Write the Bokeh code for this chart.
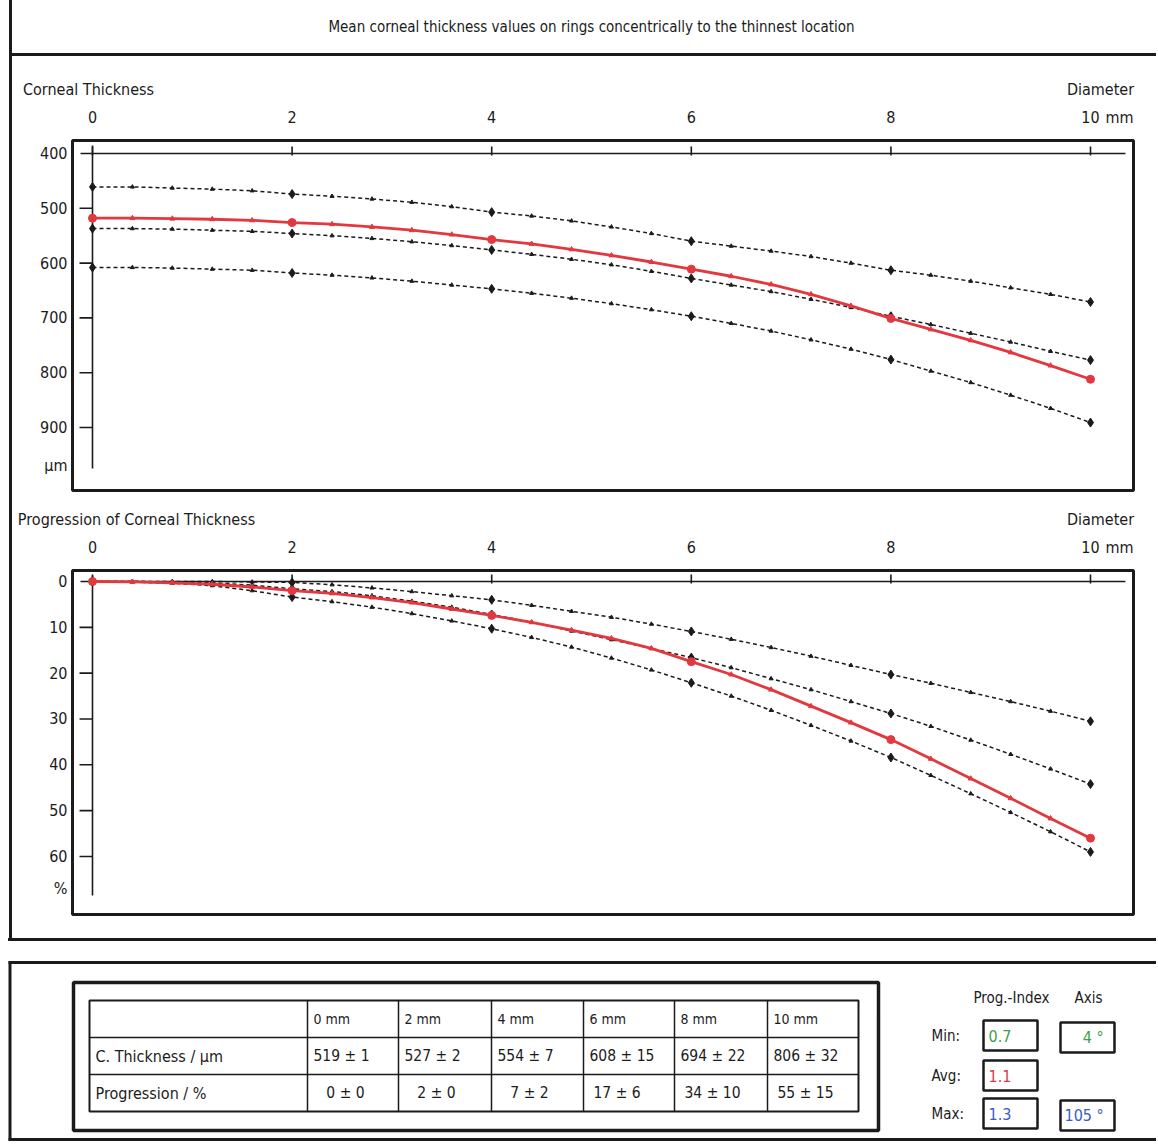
from bokeh.plotting import figure
from bokeh.models import Range1d, LinearAxis, FixedTicker, Div, Spacer
from bokeh.layouts import column, row
from bokeh.embed import file_html
from bokeh.resources import INLINE
from bokeh.core.properties import value

# ---------------- data ----------------
diam = [0.0, 0.4, 0.8, 1.2, 1.6, 2.0, 2.4, 2.8, 3.2, 3.6, 4.0, 4.4, 4.8,
        5.2, 5.6, 6.0, 6.4, 6.8, 7.2, 7.6, 8.0, 8.4, 8.8, 9.2, 9.6, 10.0]

# Corneal thickness (µm): normal band (dashed) and patient (red)
thk_upper = [461, 461, 463, 465, 468, 474, 478, 483, 489, 497, 507, 514, 523,
             534, 546, 560, 569, 578, 588, 600, 613, 622, 633, 645, 657, 671]
thk_mid = [537, 537, 538, 540, 542, 546, 550, 555, 561, 568, 576, 584, 593,
           603, 615, 628, 640, 652, 666, 681, 697, 712, 728, 744, 761, 777]
thk_lower = [608, 608, 609, 611, 613, 618, 622, 627, 633, 640, 647, 655, 664,
             674, 685, 697, 710, 724, 740, 757, 776, 797, 818, 841, 865, 891]
thk_patient = [518, 518, 519, 520, 522, 526, 529, 534, 540, 548, 557, 565, 575,
               586, 598, 611, 624, 639, 657, 678, 701, 721, 741, 763, 787, 812]

# Progression of corneal thickness (%)
prog_upper = [0, 0, 0, 0, 0.1, 0.2, 0.7, 1.4, 2.2, 3.1, 4.0, 5.2, 6.5,
              7.8, 9.3, 10.9, 12.6, 14.4, 16.3, 18.3, 20.3, 22.2, 24.2, 26.2, 28.3, 30.5]
prog_mid = [0, 0, 0.1, 0.3, 0.8, 1.6, 2.2, 3.1, 4.3, 5.6, 7.2, 8.9, 10.8,
            12.7, 14.6, 16.6, 18.8, 21.2, 23.6, 26.2, 28.8, 31.6, 34.6, 37.7, 40.9, 44.2]
prog_lower = [0, 0.1, 0.4, 0.9, 2.0, 3.4, 4.4, 5.6, 7.0, 8.6, 10.3, 12.2, 14.3,
              16.7, 19.3, 22.1, 25.0, 28.1, 31.4, 34.8, 38.4, 42.3, 46.3, 50.4, 54.6, 59.0]
prog_patient = [0, 0.1, 0.3, 0.6, 1.2, 2.0, 2.6, 3.5, 4.6, 6.0, 7.4, 8.9, 10.6,
                12.4, 14.6, 17.5, 20.3, 23.6, 27.2, 30.8, 34.5, 38.7, 43.0, 47.3, 51.7, 56.0]

x_ticks = [0, 2, 4, 6, 8, 10]
thk_ticks = [400, 500, 600, 700, 800, 900]
prog_ticks = [0, 10, 20, 30, 40, 50, 60]

table_cols = ["0 mm", "2 mm", "4 mm", "6 mm", "8 mm", "10 mm"]
table_rows = ["C. Thickness / µm", "Progression / %"]
thk_tab_mean = [519, 527, 554, 608, 694, 806]
thk_tab_sd = [1, 2, 7, 15, 22, 32]
prog_tab_mean = [0, 2, 7, 17, 34, 55]
prog_tab_sd = [0, 0, 2, 6, 10, 15]

idx_labels = ["Min:", "Avg:", "Max:"]
prog_index = [0.7, 1.1, 1.3]
axis_deg = [4, None, 105]
idx_colors = ["#3f9f45", "#d6404e", "#3a5cc4"]

TITLE = "Mean corneal thickness values on rings concentrically to the thinnest location"
FONT = "'Liberation Sans Narrow', 'Arial Narrow', 'DejaVu Sans Condensed', 'Liberation Sans', sans-serif"
INK = "#1b1b1b"
RED = "#e2383f"

# x mapping shared by both charts (page px: 0 mm at 92, 10 mm at 1090)
PXMM = 99.8
X0 = (72 - 92) / PXMM
X1 = (1133 - 92) / PXMM
FIG_W = 1144          # content column starts at page x 12
MB_L, MB_R = 60, 23   # frame from page x 72 to 1133


def px_x(px):
    return (px - 92) / PXMM


def label_axis(ticks, labels, standoff, size="16px"):
    return LinearAxis(ticker=FixedTicker(ticks=ticks),
                      major_label_overrides=dict(zip(ticks, labels)),
                      axis_line_color=None, major_tick_line_color=None,
                      minor_tick_line_color=None, major_tick_out=0, major_tick_in=0,
                      major_label_standoff=standoff, major_label_text_font=FONT,
                      major_label_text_font_size=size, major_label_text_color=INK)


def make_chart(height, b_top, b_bottom, y_bottom, y_top, ticks, unit_tick, unit_text,
               series, patient, title_txt, title_px, tick_len_y, vtop, vbot):
    p = figure(width=FIG_W, height=height, x_range=Range1d(X0, X1),
               y_range=Range1d(y_bottom, y_top), output_backend="svg",
               toolbar_location=None, x_axis_location=None, y_axis_location=None,
               min_border_left=MB_L, min_border_right=MB_R,
               min_border_top=b_top, min_border_bottom=b_bottom)
    p.xgrid.visible = False
    p.ygrid.visible = False
    p.outline_line_color = INK
    p.outline_line_width = 3
    p.background_fill_color = "white"

    # numeric diameter labels (+ unit) above the frame
    p.add_layout(label_axis(x_ticks + [10.29], [str(t) for t in x_ticks] + ["mm"], 14), "above")
    # panel caption and "Diameter" on the row above
    p.add_layout(label_axis([px_x(title_px), px_x(1100)], [title_txt, "Diameter"], 6), "above")
    # vertical value labels
    p.add_layout(label_axis(ticks + [unit_tick], [str(t) for t in ticks] + [unit_text], 5), "left")

    # inner axis cross with small ticks
    p.segment(x0=[x_ticks[0] - 0.12], y0=[ticks[0]], x1=[x_ticks[-1] + 0.35], y1=[ticks[0]],
              line_color=INK, line_width=1.6)
    p.segment(x0=[x_ticks[0]], y0=[vtop], x1=[x_ticks[0]], y1=[vbot],
              line_color=INK, line_width=1.6)
    p.segment(x0=x_ticks, y0=[ticks[0] - tick_len_y] * len(x_ticks),
              x1=x_ticks, y1=[ticks[0] + tick_len_y * 0.3] * len(x_ticks),
              line_color=INK, line_width=1.6)
    p.segment(x0=[-0.13] * (len(ticks) - 1), y0=ticks[1:],
              x1=[0] * (len(ticks) - 1), y1=ticks[1:], line_color=INK, line_width=1.6)

    for s in series:
        p.line(diam, s, line_color=INK, line_width=1.5, line_dash="4 3")
        p.scatter(diam, s, marker="triangle", size=4, color=INK)
        p.scatter(diam[::5], s[::5], marker="diamond", size=9, color=INK)
    p.line(diam, patient, line_color=RED, line_width=2.8)
    p.scatter(diam, patient, marker="triangle", size=5, color=RED)
    p.scatter(diam[::5], patient[::5], marker="circle", size=8, color=RED)
    return p


# top chart: 400 µm at page y 153, 0.548 px/µm, frame y 140..490 (figure y 56..500)
TP = 0.548
top = make_chart(444, 84, 10, 400 + (490 - 153) / TP, 400 - (153 - 140) / TP,
                 thk_ticks, 970, "µm", [thk_upper, thk_mid, thk_lower], thk_patient,
                 "Corneal Thickness", 88, 7 / TP, 400 - 8 / TP, 400 + 315 / TP)

# bottom chart: 0 % at page y 581, 4.583 px/%, frame y 570..914 (figure y 500..938)
BP = 4.583
bot = make_chart(438, 70, 24, (914 - 581) / BP, (570 - 581) / BP,
                 prog_ticks, 67, "%", [prog_upper, prog_mid, prog_lower], prog_patient,
                 "Progression of Corneal Thickness", 136, 7 / BP, -6 / BP, 314 / BP)

# header with the overall title (same frame as the charts)
hdr = figure(width=FIG_W, height=53, x_range=Range1d(X0, X1), y_range=Range1d(53, 0),
             min_border_left=MB_L, min_border_right=MB_R, min_border_top=0, min_border_bottom=0,
             x_axis_location=None, y_axis_location=None,
             toolbar_location=None, output_backend="svg", outline_line_color=None)
hdr.xgrid.visible = False
hdr.ygrid.visible = False
hdr.text(x=[px_x(591)], y=[26], text=[TITLE], text_align="center", text_baseline="middle",
         text_font=value(FONT), text_font_size="15px", text_color=INK)

# table section (page coordinates)
T_TOP, T_BOT = 941, 1144
tbl = figure(width=1156, height=T_BOT - T_TOP, x_range=Range1d(0, 1156),
             y_range=Range1d(T_BOT, T_TOP), min_border=0,
             x_axis_location=None, y_axis_location=None,
             toolbar_location=None, output_backend="svg", outline_line_color=None)
tbl.xgrid.visible = False
tbl.ygrid.visible = False
tbl.segment(x0=[8, 9.5, 8], y0=[962, 961, 1139], x1=[1156, 9.5, 1156], y1=[962, 1140, 1139],
            line_color=INK, line_width=3)
tbl.quad(left=[73], right=[878], top=[982], bottom=[1130], fill_color=None,
         line_color=INK, line_width=3.5)
col_x = [89, 307, 398, 491, 583, 674, 767, 858]
row_y = [1000, 1037, 1074, 1111]
tbl.quad(left=[col_x[0]], right=[col_x[-1]], top=[row_y[0]], bottom=[row_y[-1]],
         fill_color=None, line_color=INK, line_width=2)
tbl.segment(x0=col_x[1:-1], y0=[row_y[0]] * 6, x1=col_x[1:-1], y1=[row_y[-1]] * 6,
            line_color=INK, line_width=1.5)
tbl.segment(x0=[col_x[0]] * 2, y0=row_y[1:-1], x1=[col_x[-1]] * 2, y1=row_y[1:-1],
            line_color=INK, line_width=1.5)

row_mid = [(a + b) / 2 for a, b in zip(row_y[:-1], row_y[1:])]
lefts = [c + 6 for c in col_x[1:-1]]
tbl.text(x=lefts, y=[row_mid[0]] * 6, text=table_cols, text_font=value(FONT),
         text_font_size="14px", text_color=INK, text_baseline="middle")
thk_txt = [f"{m} ± {s}" for m, s in zip(thk_tab_mean, thk_tab_sd)]
prog_txt = [("\u2007" if m < 10 else "") + f"{m} ± {s}" for m, s in zip(prog_tab_mean, prog_tab_sd)]
tbl.text(x=lefts, y=[row_mid[1]] * 6, text=thk_txt, text_font=value(FONT),
         text_font_size="15.5px", text_color=INK, text_baseline="middle")
tbl.text(x=[x + 4 for x in lefts], y=[row_mid[2]] * 6, text=prog_txt, text_font=value(FONT),
         text_font_size="15.5px", text_color=INK, text_baseline="middle")
tbl.text(x=[col_x[0] + 6] * 2, y=row_mid[1:], text=table_rows, text_font=value(FONT),
         text_font_size="16px", text_color=INK, text_baseline="middle")

# progression index panel
tbl.text(x=[1011, 1088], y=[997, 997], text=["Prog.-Index", "Axis"], text_font=value(FONT),
         text_font_size="15px", text_color=INK, text_align="center", text_baseline="middle")
box_y = [1035, 1075, 1113]
tbl.text(x=[931] * 3, y=box_y, text=idx_labels, text_font=value(FONT),
         text_font_size="15px", text_color=INK, text_baseline="middle")
tbl.rect(x=[1010] * 3, y=box_y, width=54, height=30, fill_color=None,
         line_color=INK, line_width=2.5)
tbl.text(x=[988] * 3, y=box_y, text=[f"{v:.1f}" for v in prog_index], text_font=value(FONT),
         text_font_size="16px", text_color=idx_colors, text_baseline="middle")
ax_y = [y + 2 for y, a in zip(box_y, axis_deg) if a is not None]
ax_c = [c for c, a in zip(idx_colors, axis_deg) if a is not None]
ax_t = ["\u2007" * (3 - len(str(a))) + f"{a} °" for a in axis_deg if a is not None]
tbl.rect(x=[1087] * len(ax_y), y=ax_y, width=54, height=30, fill_color=None,
         line_color=INK, line_width=2.5)
tbl.text(x=[1064] * len(ax_y), y=ax_y, text=ax_t, text_font=value(FONT),
         text_font_size="16px", text_color=ax_c, text_baseline="middle")


def bar(w, h):
    return Div(width=w, height=h, margin=0, styles={"background-color": INK})


sec1 = row(Spacer(width=9, height=938, margin=0), bar(3, 938),
           column(hdr, bar(FIG_W, 3), top, bot))
page = column(sec1, row(Spacer(width=8, height=3, margin=0), bar(1148, 3)), tbl)

open("out.html", "w").write(file_html(page, INLINE))
